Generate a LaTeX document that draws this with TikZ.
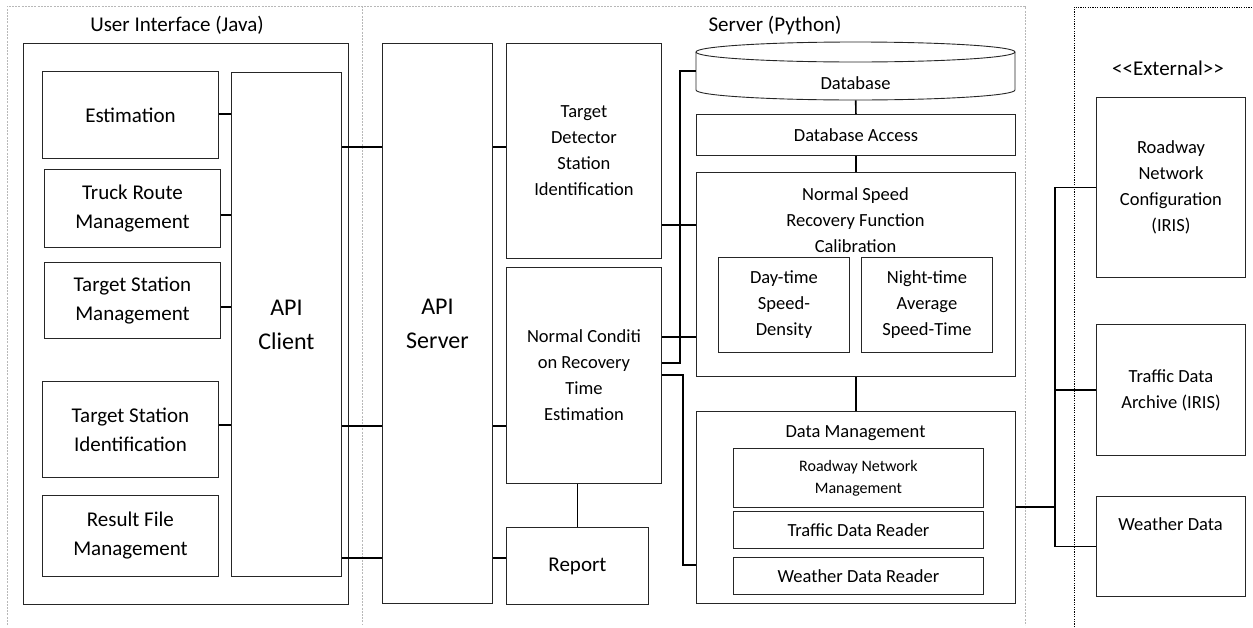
\documentclass[tikz,border=0pt]{standalone}
\usepackage{fontspec}
\setmainfont{Carlito}
\newcommand\fsA{\fontsize{21}{29}\selectfont}
\newcommand\fsB{\fontsize{18.5}{26}\selectfont}
\newcommand\fsC{\fontsize{16}{22}\selectfont}
\newcommand\fsD{\fontsize{24}{34}\selectfont}
\begin{document}
\begin{tikzpicture}[x=1pt,y=-1pt,
  box/.style={draw=black!85, line width=0.9pt, anchor=north west, inner sep=0pt, align=center, font=\fsA},
  conn/.style={draw=black, line width=1.6pt},
  lbl/.style={inner sep=0pt, align=center, font=\fsB},
  frame/.style={draw=black!28, line width=0.8pt, dash pattern=on 2pt off 1.2pt},
  extframe/.style={draw=black, line width=0.8pt, dash pattern=on 1.2pt off 1.2pt}]
\useasboundingbox (0,0) rectangle (1253,627);

% frames
\draw[frame] (7,625) -- (7,6) -- (1025,6) -- (1025,625);
\draw[frame] (362,6) -- (362,625);
\draw[extframe] (1074,627) -- (1074,7) -- (1253,7);

% titles
\node[lbl, font=\fsA] (tui) at (177,25) {User Interface (Java)};
\node[lbl, font=\fsA] (tsrv) at (775,26) {Server (Python)};
\node[lbl, font=\fsA] (text) at (1168,68) {<{}<External>{}>};

% user interface
\node[box, minimum width=325pt, minimum height=561pt] (ui) at (23,43) {};
\node[box, minimum width=176pt, minimum height=87pt] (est) at (42,71) {Estimation};
\node[box, minimum width=176pt, minimum height=78pt] (truck) at (44,169) {Truck Route\\Management};
\node[box, minimum width=176pt, minimum height=76pt] (tsm) at (44,262) {Target Station\\Management};
\node[box, minimum width=176pt, minimum height=96pt] (tsi) at (42,381) {Target Station\\Identification};
\node[box, minimum width=176pt, minimum height=81pt] (rfm) at (42,495) {Result File\\Management};
\node[box, font=\fsD, minimum width=110pt, minimum height=504pt] (apic) at (231,72) {API\\Client};

% server
\node[box, font=\fsD, minimum width=110pt, minimum height=560pt] (apis) at (382,43) {API\\Server};
\node[box, font=\fsB, minimum width=155pt, minimum height=215pt] (tdsi) at (506,43) {Target\\Detector\\Station\\Identification};
\node[box, font=\fsB, minimum width=155pt, minimum height=216pt] (nc) at (506,267) {Normal Conditi\\on Recovery\\Time\\Estimation};
\node[box, minimum width=142pt, minimum height=77pt] (report) at (506,527) {Report};

\node[anchor=north west, inner sep=0pt, minimum width=319pt, minimum height=58pt] (db) at (696,42) {};
\draw[draw=black!85, line width=0.9pt] (696,52) -- (696,90) arc[start angle=180, end angle=360, x radius=159.5pt, y radius=10pt] -- (1015,52);
\draw[draw=black!85, line width=0.9pt] (855.5,52) ellipse[x radius=159.5pt, y radius=10pt];
\node[lbl] (dbl) at (855.5,83) {Database};
\node[box, font=\fsB, minimum width=319pt, minimum height=41pt] (dba) at (696,114) {Database Access};
\node[box, minimum width=319pt, minimum height=204pt] (nsrf) at (696,172) {};
\node[lbl] (nsrfl) at (855.5,220) {Normal Speed\\Recovery Function\\Calibration};
\node[box, font=\fsB, minimum width=131pt, minimum height=95pt] (day) at (718,257) {Day-time\\Speed-\\Density};
\node[box, font=\fsB, minimum width=131pt, minimum height=95pt] (night) at (861,257) {Night-time\\Average\\Speed-Time};
\node[box, minimum width=319pt, minimum height=192pt] (dm) at (696,411) {};
\node[lbl] (dml) at (855.5,433) {Data Management};
\node[box, font=\fsC, minimum width=250pt, minimum height=59pt] (rnm) at (733,448) {Roadway Network\\Management};
\node[box, font=\fsB, minimum width=250pt, minimum height=37pt] (tdr) at (733,511) {Traffic Data Reader};
\node[box, font=\fsB, minimum width=250pt, minimum height=37pt] (wdr) at (733,557) {Weather Data Reader};

% external
\node[box, font=\fsB, minimum width=149pt, minimum height=180pt] (rnc) at (1096,97) {Roadway\\Network\\Configuration\\(IRIS)};
\node[box, font=\fsB, minimum width=149pt, minimum height=131pt] (tda) at (1096,324) {Traffic Data\\Archive (IRIS)};
\node[box, minimum width=149pt, minimum height=100pt] (wd) at (1096,496) {};
\node[lbl] (wdl) at (1170.5,524) {Weather Data};

% connectors: UI
\draw[conn] (est.east |- 0,114) -- (apic.west |- 0,114);
\draw[conn] (truck.east |- 0,215) -- (apic.west |- 0,215);
\draw[conn] (tsm.east |- 0,307) -- (apic.west |- 0,307);
\draw[conn] (tsi.east |- 0,425) -- (apic.west |- 0,425);
\draw[conn] (apic.east |- 0,147) -- (apis.west |- 0,147);
\draw[conn] (apic.east |- 0,426) -- (apis.west |- 0,426);
\draw[conn] (apic.east |- 0,558) -- (apis.west |- 0,558);
% connectors: server
\draw[conn] (apis.east |- 0,147) -- (tdsi.west |- 0,147);
\draw[conn] (apis.east |- 0,426) -- (nc.west |- 0,426);
\draw[conn] (apis.east |- 0,558) -- (report.west |- 0,558);
\draw[conn] (report.north) -- (report.north |- nc.south);
\draw[conn] (db.south) -- (dba.north);
\draw[conn] (dba.south) -- (nsrf.north);
\draw[conn] (nsrf.south) -- (dm.north);
\draw[conn] (tdsi.east |- 0,225) -- (nsrf.west |- 0,225);
\draw[conn] (nc.east |- 0,337) -- (nsrf.west |- 0,337);
\draw[conn] (nc.east |- 0,363) -- (680,363) |- (db.west);
\draw[conn] (nc.east |- 0,375) -- (683,375) |- (dm.west |- 0,565);
% connectors: external
\draw[conn] (dm.east |- 0,507) -- (1055,507);
\draw[conn] (rnc.west) -- (rnc.west -| 1055,0) -- (wd.west -| 1055,0) -- (wd.west);
\draw[conn] (tda.west) -- (tda.west -| 1055,0);
\end{tikzpicture}
\end{document}
